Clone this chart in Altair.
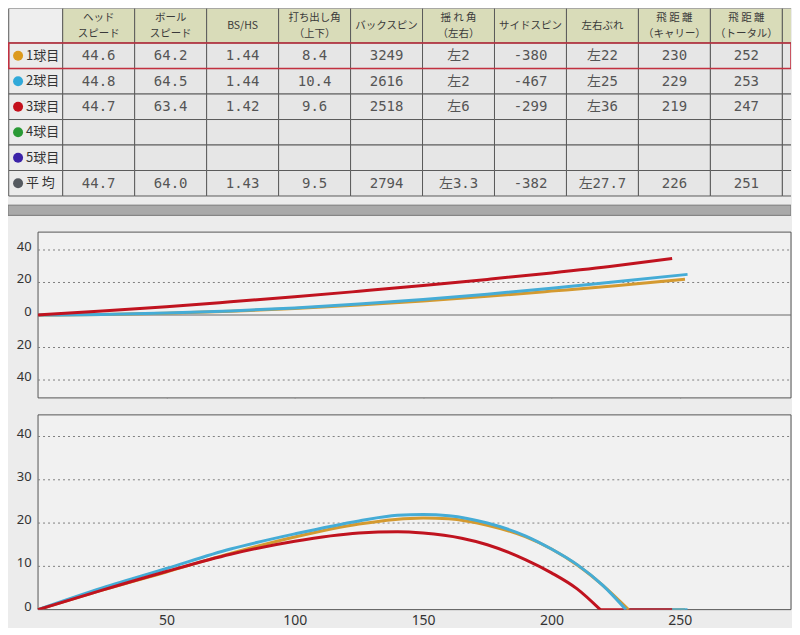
import altair as alt
import pandas as pd

# ---------------- table data ----------------
headers = ["ヘッド\nスピード", "ボール\nスピード", "BS/HS", "打ち出し角\n（上下）", "バックスピン",
           "揺 れ 角\n（左右）", "サイドスピン", "左右ぶれ", "飛 距 離\n（キャリー）", "飛 距 離\n（トータル）"]
row_labels = ["1球目", "2球目", "3球目", "4球目", "5球目", "平  均"]
dot_colors = ["#dc9a1e", "#31a9d9", "#c4101c", "#2a9a36", "#3b23a8", "#555a60"]
shot1_vals = ["44.6", "64.2", "1.44", "8.4", "3249", "左2", "-380", "左22", "230", "252"]
shot2_vals = ["44.8", "64.5", "1.44", "10.4", "2616", "左2", "-467", "左25", "229", "253"]
shot3_vals = ["44.7", "63.4", "1.42", "9.6", "2518", "左6", "-299", "左36", "219", "247"]
shot4_vals = [""] * 10
shot5_vals = [""] * 10
avg_vals = ["44.7", "64.0", "1.43", "9.5", "2794", "左3.3", "-382", "左27.7", "226", "251"]

# ---------------- trajectory data ----------------
shots = ["1球目", "2球目", "3球目"]
line_colors = ["#d49a30", "#45acd6", "#c0131f"]
carry = [230, 229, 219]
total = [252, 253, 247]

# top view (lateral deviation, left positive)
top_x1 = [0, 25, 50, 75, 100, 125, 150, 175, 200, 225, 252]
top_y1 = [0, 0.3, 1.1, 2.3, 4.0, 6.1, 8.6, 11.5, 14.7, 18.0, 22.0]
top_x2 = [0, 25, 50, 75, 100, 125, 150, 175, 200, 225, 253]
top_y2 = [0, 0.3, 1.2, 2.5, 4.3, 6.7, 9.5, 12.8, 16.5, 20.5, 25.0]
top_x3 = [0, 25, 50, 75, 100, 125, 150, 175, 200, 225, 247]
top_y3 = [0, 2.4, 5.1, 8.1, 11.2, 14.6, 18.1, 21.9, 25.9, 30.3, 34.8]
top_ticks = [-40, -20, 0, 20, 40]
top_tick_labels = ["40", "20", "0", "20", "40"]

# side view (height) during flight
side_x1 = [0, 25, 50, 75, 100, 125, 150, 160, 175, 190, 200, 210, 220, 230]
side_y1 = [0, 4.5, 8.7, 13.0, 16.8, 19.8, 21.2, 21.0, 19.5, 16.8, 14.0, 10.3, 5.6, 0]
side_x2 = [0, 25, 50, 75, 100, 125, 140, 150, 160, 175, 190, 200, 210, 220, 229]
side_y2 = [0, 5.0, 9.5, 14.0, 17.5, 20.5, 21.8, 22.0, 21.7, 20.0, 17.0, 14.0, 10.4, 5.6, 0]
side_x3 = [0, 25, 50, 75, 100, 125, 140, 150, 165, 175, 190, 200, 210, 219]
side_y3 = [0, 4.5, 8.8, 12.8, 15.8, 17.7, 18.0, 17.7, 16.5, 15.0, 11.5, 8.5, 4.8, 0]
side_ticks = [0, 10, 20, 30, 40]
side_tick_labels = ["0", "10", "20", "30", "40"]
dist_ticks = [50, 100, 150, 200, 250]

FONT = "Noto Sans CJK JP"
NUMFONT = "DejaVu Sans Mono, Noto Sans CJK JP"

# ---------------- table panel ----------------
HDR = 1.36
X0, X1 = -0.76, 10.12
Y_END = 8.15
xs_t = alt.Scale(domain=[X0, X1], nice=False, zero=False)
ys_t = alt.Scale(domain=[0, Y_END], nice=False, zero=False, reverse=True)

cells, texts, dots = [], [], []
cells.append(dict(x=-0.75, x2=0, y=0, y2=HDR, fill="#eeeeee"))
for c in range(11):
    cells.append(dict(x=c, x2=c + 1, y=0, y2=HDR, fill="#d9dcb9"))
    if c < 10:
        parts = headers[c].split("\n")
        if len(parts) == 1:
            texts.append(dict(x=c + 0.5, y=HDR / 2, t=parts[0], kind="h"))
        else:
            texts.append(dict(x=c + 0.5, y=HDR * 0.27, t=parts[0], kind="h"))
            texts.append(dict(x=c + 0.5, y=HDR * 0.73, t=parts[1], kind="h"))
all_rows = [shot1_vals, shot2_vals, shot3_vals, shot4_vals, shot5_vals, avg_vals]
for r, vals in enumerate(all_rows):
    y, y2 = HDR + r, HDR + r + 1
    cells.append(dict(x=-0.75, x2=0, y=y, y2=y2, fill="#ebebeb"))
    dots.append(dict(x=-0.62, y=y + 0.5, col=dot_colors[r]))
    texts.append(dict(x=-0.51, y=y + 0.5, t=row_labels[r], kind="r"))
    for c in range(11):
        cells.append(dict(x=c, x2=c + 1, y=y, y2=y2, fill="#e6e6e6"))
        if c < 10 and vals[c]:
            texts.append(dict(x=c + 0.5, y=y + 0.52, t=vals[c], kind="v"))
cells_df = pd.DataFrame(cells)
texts_df = pd.DataFrame(texts)
dots_df = pd.DataFrame(dots)

enc_xy = dict(x=alt.X("x:Q", scale=xs_t, axis=None), y=alt.Y("y:Q", scale=ys_t, axis=None))

def rect_enc():
    return dict(x=alt.X("x:Q", scale=xs_t, axis=None), x2="x2:Q",
                y=alt.Y("y:Q", scale=ys_t, axis=None), y2="y2:Q")

cell_layer = alt.Chart(cells_df).mark_rect(stroke="#5a5a5a", strokeWidth=1, clip=True).encode(
    fill=alt.Fill("fill:N", scale=None), **rect_enc())
band_df = pd.DataFrame([dict(x=X0, x2=X1, y=7.72, y2=8.12)])
band_layer = alt.Chart(band_df).mark_rect(fill="#a9a9a9", stroke="#777777", strokeWidth=1, clip=True).encode(
    **rect_enc())
red_df = pd.DataFrame([dict(x=-0.75, x2=X1, y=HDR, y2=HDR + 1)])
red_layer = alt.Chart(red_df).mark_rect(fillOpacity=0, stroke="#c23040", strokeWidth=1.6, clip=True).encode(
    **rect_enc())

hdr_text = alt.Chart(texts_df).transform_filter("datum.kind == 'h'").mark_text(
    font=FONT, fontSize=10.5, color="#3a3a3a", baseline="middle").encode(text="t:N", **enc_xy)
val_text = alt.Chart(texts_df).transform_filter("datum.kind == 'v'").mark_text(
    font=NUMFONT, fontSize=14, color="#555555", baseline="middle").encode(text="t:N", **enc_xy)
row_text = alt.Chart(texts_df).transform_filter("datum.kind == 'r'").mark_text(
    font=FONT, fontSize=13, color="#333333", align="left", baseline="middle").encode(text="t:N", **enc_xy)
dot_layer = alt.Chart(dots_df).mark_circle(size=100, opacity=1).encode(
    color=alt.Color("col:N", scale=None), **enc_xy)

table = alt.layer(cell_layer, band_layer, red_layer, hdr_text, val_text, row_text, dot_layer).properties(
    width=784, height=208, view=alt.ViewBackground(stroke=None, fill="#ececec"))

# ---------------- trajectory panels ----------------
def long_df(xs_list, ys_list):
    rows = []
    for s, xs, ys in zip(shots, xs_list, ys_list):
        for i, (a, b) in enumerate(zip(xs, ys)):
            rows.append(dict(shot=s, dist=a, val=b, i=i))
    return pd.DataFrame(rows)

top_df = long_df([top_x1, top_x2, top_x3], [top_y1, top_y2, top_y3])
side_df = long_df([side_x1, side_x2, side_x3], [side_y1, side_y2, side_y3])
roll_df = long_df([[c, t] for c, t in zip(carry, total)], [[0, 0]] * 3)

XMIN, XMAX = -11.7, 293.3
xdom = alt.Scale(domain=[XMIN, XMAX], nice=False, zero=False)
color_scale = alt.Scale(domain=shots, range=line_colors)

def x_axis(labels):
    if labels:
        return alt.Axis(values=dist_ticks, labels=True, ticks=False, domain=False, grid=True,
                        gridColor="#8c8c8c", gridWidth=1, title=None, labelFontSize=14,
                        labelColor="#333333", labelFont="Noto Sans", labelPadding=4)
    return alt.Axis(values=dist_ticks, labels=False, ticks=False, domain=False, grid=True,
                    gridColor="#8c8c8c", gridWidth=1, title=None)

def panel(line_sets, ys, ymin, ymax, ticks, tick_labels, show_labels, height, zero_line):
    xa = x_axis(show_labels)
    frame = alt.Chart(pd.DataFrame([dict(x=0, x2=XMAX, y=ymin, y2=ymax)])).mark_rect(
        fill="#f1f1f1", stroke="#555555", strokeWidth=1).encode(
        x=alt.X("x:Q", scale=xdom, axis=xa), x2="x2:Q",
        y=alt.Y("y:Q", scale=ys, axis=None), y2="y2:Q")
    grid_df = pd.DataFrame(dict(x=[0] * len(ticks), x2=[XMAX] * len(ticks), y=ticks))
    grid_df = grid_df[grid_df["y"] != 0]
    grid = alt.Chart(grid_df).mark_rule(color="#808080", strokeWidth=1, strokeDash=[2, 3]).encode(
        x=alt.X("x:Q", scale=xdom, axis=xa), x2="x2:Q",
        y=alt.Y("y:Q", scale=ys, axis=None))
    layers = [frame, grid]
    if zero_line:
        z = alt.Chart(pd.DataFrame(dict(x=[0], x2=[XMAX], y=[0]))).mark_rule(
            color="#6a6a6a", strokeWidth=1.2).encode(
            x=alt.X("x:Q", scale=xdom, axis=xa), x2="x2:Q",
            y=alt.Y("y:Q", scale=ys, axis=None))
        layers.append(z)
    lab = alt.Chart(pd.DataFrame(dict(x=[-2.5] * len(ticks), y=ticks, t=tick_labels))).mark_text(
        font="Noto Sans", fontSize=13, color="#333333", align="right", baseline="middle", dy=-3).encode(
        x=alt.X("x:Q", scale=xdom, axis=xa), y=alt.Y("y:Q", scale=ys, axis=None), text="t:N")
    layers.append(lab)
    for df, interp in line_sets:
        for s in shots:
            layers.append(alt.Chart(df[df["shot"] == s]).mark_line(
                strokeWidth=3, interpolate=interp, clip=True).encode(
                x=alt.X("dist:Q", scale=xdom, axis=xa),
                y=alt.Y("val:Q", scale=ys, axis=None),
                color=alt.Color("shot:N", scale=color_scale, legend=None),
                order="i:Q"))
    return alt.layer(*layers).properties(
        width=784, height=height, view=alt.ViewBackground(stroke=None, fill=None))

y1s = alt.Scale(domain=[-51, 51], nice=False, zero=False)
y2s = alt.Scale(domain=[0, 45], nice=False, zero=False)

top_chart = panel([(top_df, "monotone")], y1s, -51, 51, top_ticks, top_tick_labels, False, 166, True)
side_chart = panel([(roll_df, "linear"), (side_df, "monotone")], y2s, 0, 45, side_ticks,
                   side_tick_labels, True, 195, False)

chart = alt.concat(table, top_chart, side_chart, columns=1, spacing=15).properties(
    padding=0, background="#ececec")

chart.save("out.html", embed_options={"renderer": "svg", "actions": False})
